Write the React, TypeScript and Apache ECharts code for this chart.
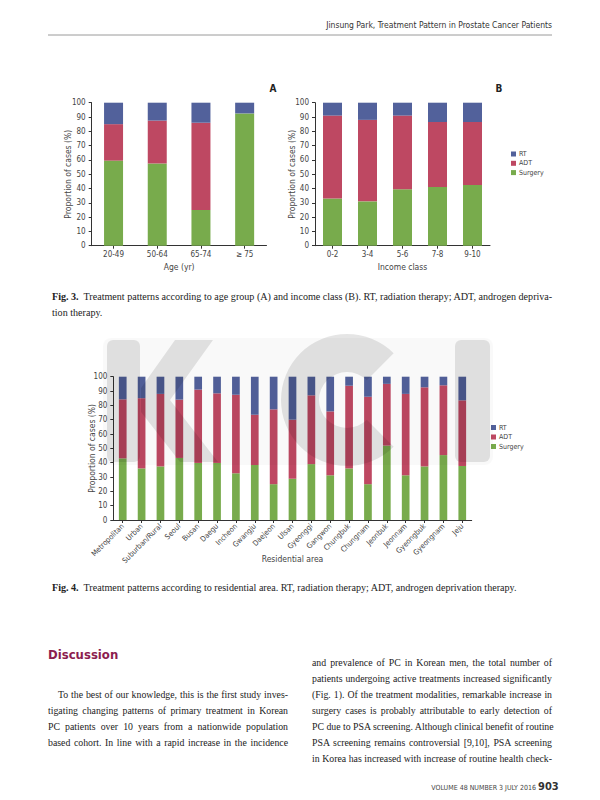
import React, { useEffect, useRef } from "react";
import * as echarts from "echarts";

// ---------- data ----------
const legendOrder = ["RT", "ADT", "Surgery"];

const ageGroups = ["20-49", "50-64", "65-74", "≥ 75"];
const ageSurgery = [59.5, 57.5, 25, 92.5];
const ageADT = [25.5, 30, 61, 0];
const ageRT = [15, 12.5, 14, 7.5];

const incomeClasses = ["0-2", "3-4", "5-6", "7-8", "9-10"];
const incomeSurgery = [33, 31, 39.5, 41, 42.5];
const incomeADT = [58, 57, 51.5, 45.5, 44];
const incomeRT = [9, 12, 9, 13.5, 13.5];

const areas = [
  "Metropolitan", "Urban", "Suburban/Rural", "Seoul", "Busan", "Daegu", "Incheon",
  "Gwangju", "Daejeon", "Ulsan", "Gyeonggi", "Gangwon", "Chungbuk", "Chungnam",
  "Jeonbuk", "Jeonnam", "Gyeongbuk", "Gyeongnam", "Jeju",
];
const areaSurgery = [43, 36, 37.4, 43.3, 39.8, 39.8, 32.6, 38.4, 25, 28.8, 39, 31.2, 36, 25, 51.9, 31.2, 37.4, 45.3, 37.7];
const areaADT = [41.2, 49, 50.6, 40.7, 51.2, 48.6, 54.8, 35.1, 52.2, 41.2, 48, 44.6, 57.7, 61, 43.1, 56.8, 55.2, 48.7, 45.8];
const areaRT = [15.8, 15, 12, 16, 9, 11.6, 12.6, 26.5, 22.8, 30, 13, 24.2, 6.3, 14, 5, 12, 7.4, 6, 16.5];

const yTicks = { min: 0, max: 100, interval: 10 };

// ---------- styles ----------
const CF = "'Liberation Sans Narrow','DejaVu Sans Condensed','Roboto Condensed',Roboto,sans-serif";
const SERIF = "'Liberation Serif','DejaVu Serif',serif";
const C_RT = "#52619b";
const C_ADT = "#be4862";
const C_SUR = "#78ab4c";
const AX = "#333";
const TXT = "#444";

function yAxis(gridIndex: number, nameGap: number) {
  return {
    type: "value",
    gridIndex,
    min: yTicks.min,
    max: yTicks.max,
    interval: yTicks.interval,
    name: "Proportion of cases (%)",
    nameLocation: "middle",
    nameGap,
    nameMoveOverlap: false,
    nameTextStyle: { fontFamily: CF, fontSize: 8.5, color: TXT },
    axisLine: { show: true, lineStyle: { color: AX, width: 1 } },
    axisTick: { show: true, length: 3, lineStyle: { color: AX } },
    axisLabel: { fontFamily: CF, fontSize: 8, color: TXT, margin: 6 },
    splitLine: { show: false },
  };
}

function xAxis(gridIndex: number, data: string[], name: string, nameGap: number, rotate = 0, fontSize = 8) {
  return {
    type: "category",
    gridIndex,
    data,
    name,
    nameLocation: "middle",
    nameGap,
    nameMoveOverlap: false,
    nameTextStyle: { fontFamily: CF, fontSize: 8.5, color: TXT },
    axisLine: { show: true, lineStyle: { color: AX, width: 1 } },
    axisTick: { show: true, length: 3, alignWithLabel: true, lineStyle: { color: AX } },
    axisLabel: { fontFamily: CF, fontSize, color: TXT, rotate, margin: 5, interval: 0 },
    splitLine: { show: false },
  };
}

function bars(idx: number, sur: number[], adt: number[], rt: number[], w: number) {
  const mk = (name: string, data: number[], color: string) => ({
    type: "bar",
    name,
    xAxisIndex: idx,
    yAxisIndex: idx,
    stack: "s" + idx,
    barWidth: w,
    data,
    itemStyle: { color },
    emphasis: { disabled: true },
  });
  return [mk("Surgery", sur, C_SUR), mk("ADT", adt, C_ADT), mk("RT", rt, C_RT)];
}

const WM = "rgba(0,0,0,0.10)";

function buildOption() {
  return {
    animation: false,
    backgroundColor: "transparent",
    grid: [
      { left: 91.7, top: 102.7, width: 174.8, height: 143 },
      { left: 315, top: 102.7, width: 175, height: 143 },
      { left: 113.3, top: 376.7, width: 358.4, height: 143.3 },
    ],
    xAxis: [
      xAxis(0, ageGroups, "Age (yr)", 17),
      xAxis(1, incomeClasses, "Income class", 17),
      xAxis(2, areas, "Residential area", 34, 45, 7.5),
    ],
    yAxis: [yAxis(0, 19), yAxis(1, 19), yAxis(2, 17)],
    legend: [
      {
        data: legendOrder, orient: "vertical", left: 506, top: 145,
        icon: "rect", itemWidth: 5, itemHeight: 5, itemGap: 1.3, selectedMode: false,
        textStyle: { fontFamily: CF, fontSize: 7, color: TXT, lineHeight: 8, padding: [0, 0, 0, -2] },
      },
      {
        data: legendOrder, orient: "vertical", left: 486, top: 418.5,
        icon: "rect", itemWidth: 5, itemHeight: 5, itemGap: 1.5, selectedMode: false,
        textStyle: { fontFamily: CF, fontSize: 7, color: TXT, lineHeight: 8, padding: [0, 0, 0, -2] },
      },
    ],
    series: [
      ...bars(0, ageSurgery, ageADT, ageRT, 19),
      ...bars(1, incomeSurgery, incomeADT, incomeRT, 19),
      ...bars(2, areaSurgery, areaADT, areaRT, 7.7),
    ],
    graphic: [
      { type: "text", x: 273, y: 88, silent: true, style: { text: "A", fontFamily: CF, fontSize: 10, fontWeight: "bold", fill: "#222", align: "center", verticalAlign: "middle" } },
      { type: "text", x: 499, y: 88, silent: true, style: { text: "B", fontFamily: CF, fontSize: 10, fontWeight: "bold", fill: "#222", align: "center", verticalAlign: "middle" } },
      // header rule
      { type: "line", silent: true, shape: { x1: 48, y1: 35, x2: 552, y2: 35 }, style: { stroke: "#9a9a9a", lineWidth: 1 } },
      // watermark
      { type: "rect", silent: true, z: 100, shape: { x: 103, y: 338, width: 390, height: 127, r: 8 }, style: { fill: "rgba(0,0,0,0.025)" } },
      { type: "rect", silent: true, z: 101, shape: { x: 107, y: 340, width: 33, height: 122, r: 6 }, style: { fill: WM } },
      { type: "polygon", silent: true, z: 101, shape: { points: [[175, 340], [213, 340], [170, 400], [218, 462], [180, 462], [141, 412], [141, 388]] }, style: { fill: WM } },
      { type: "sector", silent: true, z: 101, shape: { cx: 347, cy: 400, r: 66, r0: 28, startAngle: Math.PI / 4, endAngle: Math.PI * 2 - Math.PI / 4, clockwise: true }, style: { fill: WM } },
      { type: "rect", silent: true, z: 101, shape: { x: 455, y: 340, width: 35, height: 122, r: 6 }, style: { fill: WM } },
    ],
  };
}

// ---------- page text ----------
type LineProps = { x: number; y: number; w?: number; text: React.ReactNode; size?: number; justify?: boolean; font?: string; color?: string; weight?: string | number; align?: "left" | "right" };

function Line({ x, y, w = 240, text, size = 9.8, justify = true, font = SERIF, color = "#222", weight = "normal", align = "left" }: LineProps) {
  const lh = 14;
  return (
    <div
      style={{
        position: "absolute",
        left: x,
        top: y - lh / 2,
        width: w,
        height: lh,
        lineHeight: lh + "px",
        fontFamily: font,
        fontSize: size,
        color,
        fontWeight: weight as any,
        textAlign: justify ? "justify" : align,
        textAlignLast: justify ? "justify" : align,
        whiteSpace: "nowrap",
        overflow: "visible",
      } as React.CSSProperties}
    >
      {text}
    </div>
  );
}

const leftLines = [
  "To the best of our knowledge, this is the first study inves-",
  "tigating changing patterns of primary treatment in Korean",
  "PC patients over 10 years from a nationwide population",
  "based cohort. In line with a rapid increase in the incidence",
];
const rightLines = [
  "and prevalence of PC in Korean men, the total number of",
  "patients undergoing active treatments increased significantly",
  "(Fig. 1). Of the treatment modalities, remarkable increase in",
  "surgery cases is probably attributable to early detection of",
  "PC due to PSA screening. Although clinical benefit of routine",
  "PSA screening remains controversial [9,10], PSA screening",
  "in Korea has increased with increase of routine health check-",
];

export default function App() {
  const ref = useRef<HTMLDivElement>(null);
  useEffect(() => {
    if (!ref.current) return;
    const chart = echarts.init(ref.current, null, { renderer: "svg" });
    chart.setOption(buildOption() as any);
    return () => chart.dispose();
  }, []);
  return (
    <div style={{ position: "absolute", left: 0, top: 0, width: 600, height: 800, background: "#fff", overflow: "hidden" }}>
      <div ref={ref} style={{ position: "absolute", left: 0, top: 0, width: 600, height: 800 }} />
      <Line x={252} y={25} w={300} justify={false} align="right" font={CF} size={8.5} color="#333" text="Jinsung Park, Treatment Pattern in Prostate Cancer Patients" />
      <Line x={52} y={297} w={496} size={10.1} text={<><b>Fig. 3.</b>{"\u00a0 Treatment patterns according to age group (A) and income class (B). RT, radiation therapy; ADT, androgen depriva-"}</>} />
      <Line x={52} y={313} w={496} size={10.1} justify={false} text="tion therapy." />
      <Line x={52} y={588} w={496} size={10.1} justify={false} text={<><b>Fig. 4.</b>{"\u00a0 Treatment patterns according to residential area. RT, radiation therapy; ADT, androgen deprivation therapy."}</>} />
      <Line x={48} y={655} w={200} justify={false} font={CF} size={13} weight="bold" color="#8c1d4f" text="Discussion" />
      {leftLines.map((t, i) => (
        <Line key={"l" + i} x={i === 0 ? 58 : 48} y={695 + i * 16} w={i === 0 ? 230 : 240} text={t} />
      ))}
      {rightLines.map((t, i) => (
        <Line key={"r" + i} x={312} y={663 + i * 16} w={240} text={t} />
      ))}
      <Line x={300} y={788} w={236} justify={false} align="right" font={CF} size={7} color="#444" text="VOLUME 48 NUMBER 3 JULY 2016" />
      <Line x={538} y={787} w={20} justify={false} font={CF} size={11} weight="bold" color="#333" text="903" />
    </div>
  );
}
